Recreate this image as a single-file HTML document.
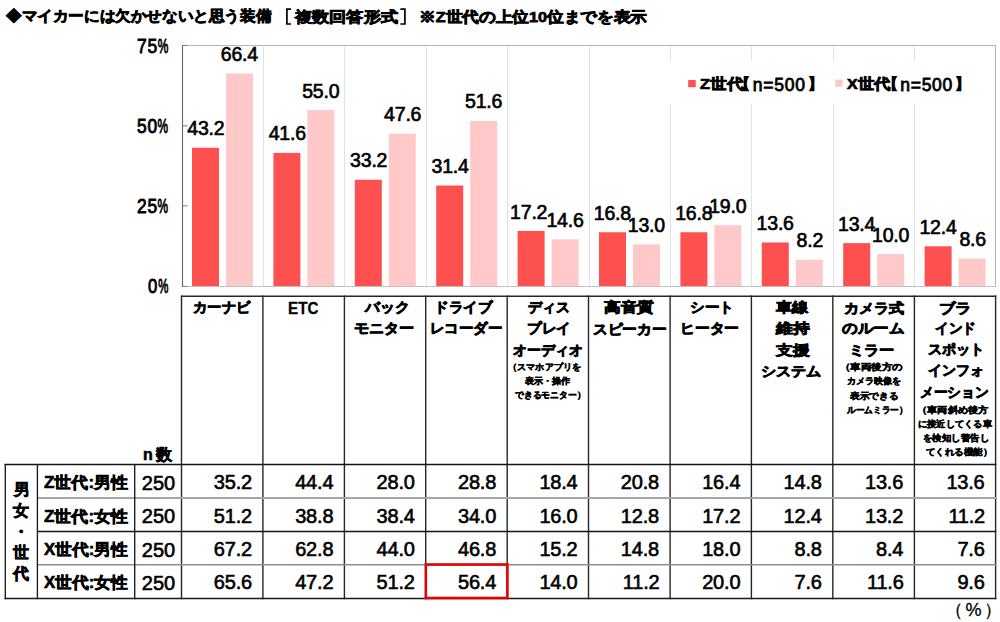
<!DOCTYPE html>
<html lang="ja"><head><meta charset="utf-8"><title>chart</title>
<style>
*{margin:0;padding:0;box-sizing:border-box}
html,body{width:1000px;height:622px;overflow:hidden;background:#fff}
body{position:relative;font-family:"Liberation Sans",sans-serif;color:#000}
.a{position:absolute}
.t{position:absolute;white-space:nowrap;line-height:1.25}
</style></head><body>

<svg class="a" style="left:0;top:0" width="1000" height="622" viewBox="0 0 1000 622">
<line x1="263.50" y1="46.00" x2="263.50" y2="286.00" stroke="#E2E2E2" stroke-width="1.00"/>
<line x1="344.50" y1="46.00" x2="344.50" y2="286.00" stroke="#E2E2E2" stroke-width="1.00"/>
<line x1="426.50" y1="46.00" x2="426.50" y2="286.00" stroke="#E2E2E2" stroke-width="1.00"/>
<line x1="507.50" y1="46.00" x2="507.50" y2="286.00" stroke="#E2E2E2" stroke-width="1.00"/>
<line x1="589.50" y1="46.00" x2="589.50" y2="286.00" stroke="#E2E2E2" stroke-width="1.00"/>
<line x1="670.50" y1="46.00" x2="670.50" y2="286.00" stroke="#E2E2E2" stroke-width="1.00"/>
<line x1="751.50" y1="46.00" x2="751.50" y2="286.00" stroke="#E2E2E2" stroke-width="1.00"/>
<line x1="833.50" y1="46.00" x2="833.50" y2="286.00" stroke="#E2E2E2" stroke-width="1.00"/>
<line x1="914.50" y1="46.00" x2="914.50" y2="286.00" stroke="#E2E2E2" stroke-width="1.00"/>
<rect x="192.00" y="147.76" width="27.00" height="138.24" fill="#FF5050"/>
<rect x="226.00" y="73.52" width="27.00" height="212.48" fill="#FFC9C9"/>
<rect x="273.40" y="152.88" width="27.00" height="133.12" fill="#FF5050"/>
<rect x="307.40" y="110.00" width="27.00" height="176.00" fill="#FFC9C9"/>
<rect x="354.80" y="179.76" width="27.00" height="106.24" fill="#FF5050"/>
<rect x="388.80" y="133.68" width="27.00" height="152.32" fill="#FFC9C9"/>
<rect x="436.20" y="185.52" width="27.00" height="100.48" fill="#FF5050"/>
<rect x="470.20" y="120.88" width="27.00" height="165.12" fill="#FFC9C9"/>
<rect x="517.60" y="230.96" width="27.00" height="55.04" fill="#FF5050"/>
<rect x="551.60" y="239.28" width="27.00" height="46.72" fill="#FFC9C9"/>
<rect x="599.00" y="232.24" width="27.00" height="53.76" fill="#FF5050"/>
<rect x="633.00" y="244.40" width="27.00" height="41.60" fill="#FFC9C9"/>
<rect x="680.40" y="232.24" width="27.00" height="53.76" fill="#FF5050"/>
<rect x="714.40" y="225.20" width="27.00" height="60.80" fill="#FFC9C9"/>
<rect x="761.80" y="242.48" width="27.00" height="43.52" fill="#FF5050"/>
<rect x="795.80" y="259.76" width="27.00" height="26.24" fill="#FFC9C9"/>
<rect x="843.20" y="243.12" width="27.00" height="42.88" fill="#FF5050"/>
<rect x="877.20" y="254.00" width="27.00" height="32.00" fill="#FFC9C9"/>
<rect x="924.60" y="246.32" width="27.00" height="39.68" fill="#FF5050"/>
<rect x="958.60" y="258.48" width="27.00" height="27.52" fill="#FFC9C9"/>
<line x1="182.00" y1="45.50" x2="996.00" y2="45.50" stroke="#B4B4B4" stroke-width="1.00"/>
<line x1="995.50" y1="45.00" x2="995.50" y2="287.00" stroke="#B4B4B4" stroke-width="1.00"/>
<line x1="182.00" y1="286.50" x2="996.00" y2="286.50" stroke="#BDBDBD" stroke-width="1.00"/>
<line x1="182.50" y1="45.50" x2="187.50" y2="45.50" stroke="#7A7A7A" stroke-width="1.00"/>
<line x1="182.50" y1="125.90" x2="187.50" y2="125.90" stroke="#7A7A7A" stroke-width="1.00"/>
<line x1="182.50" y1="205.90" x2="187.50" y2="205.90" stroke="#7A7A7A" stroke-width="1.00"/>
<line x1="182.50" y1="286.40" x2="187.50" y2="286.40" stroke="#7A7A7A" stroke-width="1.00"/>
<line x1="182.50" y1="45.00" x2="182.50" y2="287.00" stroke="#666666" stroke-width="1.10"/>
<rect x="664.00" y="61.00" width="331.00" height="43.00" fill="#fff"/>
<rect x="688.20" y="80.00" width="7.50" height="7.20" fill="#FF5050"/>
<rect x="835.30" y="79.60" width="7.30" height="7.10" fill="#FFC9C9"/>
<line x1="181.50" y1="295.50" x2="181.50" y2="599.20" stroke="#262626" stroke-width="1.40"/>
<line x1="262.90" y1="295.50" x2="262.90" y2="599.20" stroke="#262626" stroke-width="1.40"/>
<line x1="344.40" y1="295.50" x2="344.40" y2="599.20" stroke="#262626" stroke-width="1.40"/>
<line x1="425.70" y1="295.50" x2="425.70" y2="599.20" stroke="#262626" stroke-width="1.40"/>
<line x1="507.20" y1="295.50" x2="507.20" y2="599.20" stroke="#262626" stroke-width="1.40"/>
<line x1="588.50" y1="295.50" x2="588.50" y2="599.20" stroke="#262626" stroke-width="1.40"/>
<line x1="670.10" y1="295.50" x2="670.10" y2="599.20" stroke="#262626" stroke-width="1.40"/>
<line x1="751.40" y1="295.50" x2="751.40" y2="599.20" stroke="#262626" stroke-width="1.40"/>
<line x1="832.80" y1="295.50" x2="832.80" y2="599.20" stroke="#262626" stroke-width="1.40"/>
<line x1="914.40" y1="295.50" x2="914.40" y2="599.20" stroke="#262626" stroke-width="1.40"/>
<line x1="995.60" y1="295.50" x2="995.60" y2="599.20" stroke="#262626" stroke-width="1.40"/>
<line x1="181.00" y1="296.20" x2="996.30" y2="296.20" stroke="#262626" stroke-width="1.50"/>
<line x1="4.50" y1="464.50" x2="996.30" y2="464.50" stroke="#141414" stroke-width="1.30"/>
<line x1="37.40" y1="498.00" x2="996.30" y2="498.00" stroke="#A6A6A6" stroke-width="1.90"/>
<line x1="37.40" y1="531.50" x2="996.30" y2="531.50" stroke="#141414" stroke-width="1.30"/>
<line x1="37.40" y1="564.80" x2="996.30" y2="564.80" stroke="#8E8E8E" stroke-width="1.60"/>
<line x1="4.50" y1="598.50" x2="996.30" y2="598.50" stroke="#1A1A1A" stroke-width="1.30"/>
<line x1="5.30" y1="463.90" x2="5.30" y2="599.20" stroke="#1a1a1a" stroke-width="1.35"/>
<line x1="37.40" y1="463.90" x2="37.40" y2="599.20" stroke="#1a1a1a" stroke-width="1.35"/>
<line x1="134.70" y1="463.90" x2="134.70" y2="599.20" stroke="#1a1a1a" stroke-width="1.35"/>
<path d="M291 9.1H286.9V24H291" fill="none" stroke="#000" stroke-width="1.7"/>
<path d="M400.4 9.1H404.9V24H400.4" fill="none" stroke="#000" stroke-width="1.7"/>
<rect x="425.8" y="564.5" width="81.6" height="33.5" fill="none" stroke="#E60000" stroke-width="2.6"/>
</svg>
<div class="t" style="left:6.40px;top:7.30px;font-size:14.5px;font-weight:bold;-webkit-text-stroke:0.75px #000;letter-spacing:0.00px;transform:scaleX(1.0396);transform-origin:0 0;">◆マイカーには欠かせないと思う装備</div>
<div class="t" style="left:295.14px;top:7.80px;font-size:14.5px;font-weight:bold;-webkit-text-stroke:0.75px #000;letter-spacing:0.00px;transform:scaleX(1.1429);transform-origin:0 0;">複数回答形式</div>
<div class="t" style="left:419.29px;top:7.80px;font-size:14.5px;font-weight:bold;-webkit-text-stroke:0.75px #000;letter-spacing:0.00px;transform:scaleX(1.1132);transform-origin:0 0;">※Z世代の上位10位までを表示</div>
<div class="t" style="left:136.80px;top:34.20px;font-size:19.5px;-webkit-text-stroke:0.85px #000;letter-spacing:0.80px;transform:scaleX(0.8971);transform-origin:0 0;">75<span style="display:inline-block;transform:scaleX(0.68);transform-origin:0 0;width:10.5px">%</span></div>
<div class="t" style="left:137.00px;top:114.20px;font-size:19.5px;-webkit-text-stroke:0.85px #000;letter-spacing:0.80px;transform:scaleX(0.8914);transform-origin:0 0;">50<span style="display:inline-block;transform:scaleX(0.68);transform-origin:0 0;width:10.5px">%</span></div>
<div class="t" style="left:137.00px;top:194.20px;font-size:19.5px;-webkit-text-stroke:0.85px #000;letter-spacing:0.80px;transform:scaleX(0.8914);transform-origin:0 0;">25<span style="display:inline-block;transform:scaleX(0.68);transform-origin:0 0;width:10.5px">%</span></div>
<div class="t" style="left:147.60px;top:274.20px;font-size:19.5px;-webkit-text-stroke:0.85px #000;letter-spacing:0.80px;transform:scaleX(0.8583);transform-origin:0 0;">0<span style="display:inline-block;transform:scaleX(0.68);transform-origin:0 0;width:10.5px">%</span></div>
<div class="t" style="left:187.30px;top:116.36px;font-size:19.5px;-webkit-text-stroke:0.65px #000;letter-spacing:-0.20px;">43.2</div>
<div class="t" style="left:220.80px;top:42.12px;font-size:19.5px;-webkit-text-stroke:0.65px #000;letter-spacing:-0.20px;">66.4</div>
<div class="t" style="left:268.70px;top:121.48px;font-size:19.5px;-webkit-text-stroke:0.65px #000;letter-spacing:-0.20px;">41.6</div>
<div class="t" style="left:302.20px;top:78.60px;font-size:19.5px;-webkit-text-stroke:0.65px #000;letter-spacing:-0.20px;">55.0</div>
<div class="t" style="left:350.10px;top:148.36px;font-size:19.5px;-webkit-text-stroke:0.65px #000;letter-spacing:-0.20px;">33.2</div>
<div class="t" style="left:384.10px;top:102.28px;font-size:19.5px;-webkit-text-stroke:0.65px #000;letter-spacing:-0.20px;">47.6</div>
<div class="t" style="left:431.50px;top:154.12px;font-size:19.5px;-webkit-text-stroke:0.65px #000;letter-spacing:-0.20px;">31.4</div>
<div class="t" style="left:465.00px;top:89.48px;font-size:19.5px;-webkit-text-stroke:0.65px #000;letter-spacing:-0.20px;">51.6</div>
<div class="t" style="left:510.10px;top:199.56px;font-size:19.5px;-webkit-text-stroke:0.65px #000;letter-spacing:-0.20px;">17.2</div>
<div class="t" style="left:546.40px;top:207.88px;font-size:19.5px;-webkit-text-stroke:0.65px #000;letter-spacing:-0.20px;">14.6</div>
<div class="t" style="left:593.80px;top:200.84px;font-size:19.5px;-webkit-text-stroke:0.65px #000;letter-spacing:-0.20px;">16.8</div>
<div class="t" style="left:627.80px;top:213.00px;font-size:19.5px;-webkit-text-stroke:0.65px #000;letter-spacing:-0.20px;">13.0</div>
<div class="t" style="left:675.20px;top:200.84px;font-size:19.5px;-webkit-text-stroke:0.65px #000;letter-spacing:-0.20px;">16.8</div>
<div class="t" style="left:709.20px;top:193.80px;font-size:19.5px;-webkit-text-stroke:0.65px #000;letter-spacing:-0.20px;">19.0</div>
<div class="t" style="left:756.60px;top:211.08px;font-size:19.5px;-webkit-text-stroke:0.65px #000;letter-spacing:-0.20px;">13.6</div>
<div class="t" style="left:796.60px;top:228.36px;font-size:19.5px;-webkit-text-stroke:0.65px #000;letter-spacing:-0.20px;">8.2</div>
<div class="t" style="left:838.00px;top:211.72px;font-size:19.5px;-webkit-text-stroke:0.65px #000;letter-spacing:-0.20px;">13.4</div>
<div class="t" style="left:872.00px;top:222.60px;font-size:19.5px;-webkit-text-stroke:0.65px #000;letter-spacing:-0.20px;">10.0</div>
<div class="t" style="left:919.40px;top:214.92px;font-size:19.5px;-webkit-text-stroke:0.65px #000;letter-spacing:-0.20px;">12.4</div>
<div class="t" style="left:959.40px;top:227.08px;font-size:19.5px;-webkit-text-stroke:0.65px #000;letter-spacing:-0.20px;">8.6</div>
<div class="t" style="left:699.80px;top:75.00px;font-size:14.5px;font-weight:bold;-webkit-text-stroke:0.7px #000;letter-spacing:0.00px;transform:scaleX(1.1231);transform-origin:0 0;">Z世代</div>
<div class="t" style="left:735.20px;top:75.00px;font-size:14.5px;font-weight:bold;-webkit-text-stroke:0.7px #000;letter-spacing:0.00px;">【</div>
<div class="t" style="left:752.80px;top:75.20px;font-size:17.5px;-webkit-text-stroke:0.8px #000;letter-spacing:0.75px;">n=500</div>
<div class="t" style="left:808.00px;top:75.00px;font-size:14.5px;font-weight:bold;-webkit-text-stroke:0.7px #000;letter-spacing:0.00px;">】</div>
<div class="t" style="left:847.20px;top:75.00px;font-size:14.5px;font-weight:bold;-webkit-text-stroke:0.7px #000;letter-spacing:0.00px;transform:scaleX(1.0950);transform-origin:0 0;">X世代</div>
<div class="t" style="left:882.60px;top:75.00px;font-size:14.5px;font-weight:bold;-webkit-text-stroke:0.7px #000;letter-spacing:0.00px;">【</div>
<div class="t" style="left:900.20px;top:75.20px;font-size:17.5px;-webkit-text-stroke:0.8px #000;letter-spacing:0.75px;">n=500</div>
<div class="t" style="left:955.40px;top:75.00px;font-size:14.5px;font-weight:bold;-webkit-text-stroke:0.7px #000;letter-spacing:0.00px;">】</div>
<div class="t" style="left:192.70px;top:299.20px;font-size:14px;font-weight:bold;-webkit-text-stroke:0.75px #000;letter-spacing:0.00px;transform:scaleX(1.0211);transform-origin:0 0;">カーナビ</div>
<div class="t" style="left:287.71px;top:297.70px;font-size:17px;font-weight:bold;-webkit-text-stroke:0.3px #000;letter-spacing:0.00px;transform:scaleX(0.8939);transform-origin:0 0;">ETC</div>
<div class="t" style="left:364.55px;top:299.20px;font-size:14px;font-weight:bold;-webkit-text-stroke:0.75px #000;letter-spacing:0.00px;transform:scaleX(1.0537);transform-origin:0 0;">バック</div>
<div class="t" style="left:354.40px;top:319.90px;font-size:14px;font-weight:bold;-webkit-text-stroke:0.75px #000;letter-spacing:0.00px;transform:scaleX(1.0768);transform-origin:0 0;">モニター</div>
<div class="t" style="left:433.85px;top:299.20px;font-size:14px;font-weight:bold;-webkit-text-stroke:0.75px #000;letter-spacing:0.00px;transform:scaleX(1.0377);transform-origin:0 0;">ドライブ</div>
<div class="t" style="left:429.87px;top:320.40px;font-size:14px;font-weight:bold;-webkit-text-stroke:0.75px #000;letter-spacing:0.00px;transform:scaleX(1.0304);transform-origin:0 0;">レコーダー</div>
<div class="t" style="left:528.30px;top:299.20px;font-size:14px;font-weight:bold;-webkit-text-stroke:0.75px #000;letter-spacing:0.00px;transform:scaleX(0.9927);transform-origin:0 0;">ディス</div>
<div class="t" style="left:527.40px;top:320.40px;font-size:14px;font-weight:bold;-webkit-text-stroke:0.75px #000;letter-spacing:0.00px;transform:scaleX(1.0400);transform-origin:0 0;">プレイ</div>
<div class="t" style="left:513.30px;top:341.60px;font-size:14px;font-weight:bold;-webkit-text-stroke:0.75px #000;letter-spacing:0.00px;transform:scaleX(0.9942);transform-origin:0 0;">オーディオ</div>
<div class="t" style="left:508.23px;top:362.10px;font-size:8.6px;font-weight:bold;-webkit-text-stroke:0.45px #000;letter-spacing:0.00px;transform:scaleX(1.0149);transform-origin:0 0;">（スマホアプリを</div>
<div class="t" style="left:524.80px;top:376.40px;font-size:8.6px;font-weight:bold;-webkit-text-stroke:0.45px #000;letter-spacing:0.00px;transform:scaleX(1.0000);transform-origin:0 0;">表示・操作</div>
<div class="t" style="left:515.00px;top:390.20px;font-size:8.6px;font-weight:bold;-webkit-text-stroke:0.45px #000;letter-spacing:0.00px;transform:scaleX(0.9776);transform-origin:0 0;">できるモニター）</div>
<div class="t" style="left:604.40px;top:299.20px;font-size:14px;font-weight:bold;-webkit-text-stroke:0.75px #000;letter-spacing:0.00px;transform:scaleX(1.1952);transform-origin:0 0;">高音質</div>
<div class="t" style="left:592.80px;top:320.90px;font-size:14px;font-weight:bold;-webkit-text-stroke:0.75px #000;letter-spacing:0.00px;transform:scaleX(1.0486);transform-origin:0 0;">スピーカー</div>
<div class="t" style="left:689.96px;top:298.70px;font-size:14px;font-weight:bold;-webkit-text-stroke:0.75px #000;letter-spacing:0.00px;transform:scaleX(1.0410);transform-origin:0 0;">シート</div>
<div class="t" style="left:680.29px;top:319.90px;font-size:14px;font-weight:bold;-webkit-text-stroke:0.75px #000;letter-spacing:0.00px;transform:scaleX(1.0537);transform-origin:0 0;">ヒーター</div>
<div class="t" style="left:776.16px;top:299.20px;font-size:14px;font-weight:bold;-webkit-text-stroke:0.75px #000;letter-spacing:0.00px;transform:scaleX(1.1600);transform-origin:0 0;">車線</div>
<div class="t" style="left:776.20px;top:320.40px;font-size:14px;font-weight:bold;-webkit-text-stroke:0.75px #000;letter-spacing:0.00px;transform:scaleX(1.2000);transform-origin:0 0;">維持</div>
<div class="t" style="left:776.20px;top:341.60px;font-size:14px;font-weight:bold;-webkit-text-stroke:0.75px #000;letter-spacing:0.00px;transform:scaleX(1.2000);transform-origin:0 0;">支援</div>
<div class="t" style="left:761.42px;top:362.80px;font-size:14px;font-weight:bold;-webkit-text-stroke:0.75px #000;letter-spacing:0.00px;transform:scaleX(1.0782);transform-origin:0 0;">システム</div>
<div class="t" style="left:843.60px;top:299.70px;font-size:14px;font-weight:bold;-webkit-text-stroke:0.75px #000;letter-spacing:0.00px;transform:scaleX(1.0732);transform-origin:0 0;">カメラ式</div>
<div class="t" style="left:842.20px;top:320.40px;font-size:14px;font-weight:bold;-webkit-text-stroke:0.75px #000;letter-spacing:0.00px;transform:scaleX(1.1107);transform-origin:0 0;">のルーム</div>
<div class="t" style="left:849.24px;top:341.60px;font-size:14px;font-weight:bold;-webkit-text-stroke:0.75px #000;letter-spacing:0.00px;transform:scaleX(1.0872);transform-origin:0 0;">ミラー</div>
<div class="t" style="left:839.69px;top:362.10px;font-size:8.6px;font-weight:bold;-webkit-text-stroke:0.45px #000;letter-spacing:0.00px;transform:scaleX(1.1612);transform-origin:0 0;">（車両後方の</div>
<div class="t" style="left:847.00px;top:376.40px;font-size:8.6px;font-weight:bold;-webkit-text-stroke:0.45px #000;letter-spacing:0.00px;transform:scaleX(1.0093);transform-origin:0 0;">カメラ映像を</div>
<div class="t" style="left:850.30px;top:390.70px;font-size:8.6px;font-weight:bold;-webkit-text-stroke:0.45px #000;letter-spacing:0.00px;transform:scaleX(1.0750);transform-origin:0 0;">表示できる</div>
<div class="t" style="left:846.50px;top:404.50px;font-size:8.6px;font-weight:bold;-webkit-text-stroke:0.45px #000;letter-spacing:0.00px;transform:scaleX(0.9638);transform-origin:0 0;">ルームミラー）</div>
<div class="t" style="left:938.82px;top:299.70px;font-size:14px;font-weight:bold;-webkit-text-stroke:0.75px #000;letter-spacing:0.00px;transform:scaleX(1.1760);transform-origin:0 0;">ブラ</div>
<div class="t" style="left:935.20px;top:319.90px;font-size:14px;font-weight:bold;-webkit-text-stroke:0.75px #000;letter-spacing:0.00px;transform:scaleX(0.9683);transform-origin:0 0;">インド</div>
<div class="t" style="left:928.40px;top:341.10px;font-size:14px;font-weight:bold;-webkit-text-stroke:0.75px #000;letter-spacing:0.00px;transform:scaleX(1.0111);transform-origin:0 0;">スポット</div>
<div class="t" style="left:928.40px;top:362.30px;font-size:14px;font-weight:bold;-webkit-text-stroke:0.75px #000;letter-spacing:0.00px;transform:scaleX(1.0000);transform-origin:0 0;">インフォ</div>
<div class="t" style="left:919.92px;top:384.00px;font-size:14px;font-weight:bold;-webkit-text-stroke:0.75px #000;letter-spacing:0.00px;transform:scaleX(0.9797);transform-origin:0 0;">メーション</div>
<div class="t" style="left:916.54px;top:404.50px;font-size:8.6px;font-weight:bold;-webkit-text-stroke:0.45px #000;letter-spacing:0.00px;transform:scaleX(1.1310);transform-origin:0 0;">（車両斜め後方</div>
<div class="t" style="left:918.10px;top:418.80px;font-size:8.6px;font-weight:bold;-webkit-text-stroke:0.45px #000;letter-spacing:0.00px;transform:scaleX(1.0250);transform-origin:0 0;">に接近してくる車</div>
<div class="t" style="left:922.90px;top:433.10px;font-size:8.6px;font-weight:bold;-webkit-text-stroke:0.45px #000;letter-spacing:0.00px;transform:scaleX(1.0468);transform-origin:0 0;">を検知し警告し</div>
<div class="t" style="left:925.70px;top:447.40px;font-size:8.6px;font-weight:bold;-webkit-text-stroke:0.45px #000;letter-spacing:0.00px;transform:scaleX(1.0483);transform-origin:0 0;">てくれる機能）</div>
<div class="t" style="left:143.00px;top:444.80px;font-size:16px;font-weight:bold;-webkit-text-stroke:0.6px #000;letter-spacing:3.00px;">n数</div>
<div class="t" style="left:13.80px;top:479.90px;font-size:16px;font-weight:bold;-webkit-text-stroke:0.6px #000;letter-spacing:0.00px;">男</div>
<div class="t" style="left:12.80px;top:501.00px;font-size:16px;font-weight:bold;-webkit-text-stroke:0.6px #000;letter-spacing:0.00px;">女</div>
<div class="t" style="left:12.80px;top:521.80px;font-size:16px;font-weight:bold;-webkit-text-stroke:0.6px #000;letter-spacing:0.00px;">・</div>
<div class="t" style="left:12.80px;top:542.90px;font-size:16px;font-weight:bold;-webkit-text-stroke:0.6px #000;letter-spacing:0.00px;">世</div>
<div class="t" style="left:13.30px;top:563.50px;font-size:16px;font-weight:bold;-webkit-text-stroke:0.6px #000;letter-spacing:0.00px;">代</div>
<div class="t" style="left:43.60px;top:473.30px;font-size:16px;font-weight:bold;-webkit-text-stroke:0.6px #000;letter-spacing:0.00px;transform:scaleX(1.0633);transform-origin:0 0;">Z世代:男性</div>
<div class="t" style="left:141.80px;top:471.00px;font-size:20px;-webkit-text-stroke:0.6px #000;letter-spacing:0.00px;">250</div>
<div class="t" style="left:213.80px;top:470.30px;font-size:20px;-webkit-text-stroke:0.6px #000;letter-spacing:-0.20px;">35.2</div>
<div class="t" style="left:295.20px;top:470.30px;font-size:20px;-webkit-text-stroke:0.6px #000;letter-spacing:-0.20px;">44.4</div>
<div class="t" style="left:376.60px;top:470.30px;font-size:20px;-webkit-text-stroke:0.6px #000;letter-spacing:-0.20px;">28.0</div>
<div class="t" style="left:458.00px;top:470.30px;font-size:20px;-webkit-text-stroke:0.6px #000;letter-spacing:-0.20px;">28.8</div>
<div class="t" style="left:539.40px;top:470.30px;font-size:20px;-webkit-text-stroke:0.6px #000;letter-spacing:-0.20px;">18.4</div>
<div class="t" style="left:620.80px;top:470.30px;font-size:20px;-webkit-text-stroke:0.6px #000;letter-spacing:-0.20px;">20.8</div>
<div class="t" style="left:702.20px;top:470.30px;font-size:20px;-webkit-text-stroke:0.6px #000;letter-spacing:-0.20px;">16.4</div>
<div class="t" style="left:783.60px;top:470.30px;font-size:20px;-webkit-text-stroke:0.6px #000;letter-spacing:-0.20px;">14.8</div>
<div class="t" style="left:865.00px;top:470.30px;font-size:20px;-webkit-text-stroke:0.6px #000;letter-spacing:-0.20px;">13.6</div>
<div class="t" style="left:946.40px;top:470.30px;font-size:20px;-webkit-text-stroke:0.6px #000;letter-spacing:-0.20px;">13.6</div>
<div class="t" style="left:43.60px;top:506.60px;font-size:16px;font-weight:bold;-webkit-text-stroke:0.6px #000;letter-spacing:0.00px;transform:scaleX(1.0633);transform-origin:0 0;">Z世代:女性</div>
<div class="t" style="left:141.80px;top:504.30px;font-size:20px;-webkit-text-stroke:0.6px #000;letter-spacing:0.00px;">250</div>
<div class="t" style="left:213.80px;top:503.60px;font-size:20px;-webkit-text-stroke:0.6px #000;letter-spacing:-0.20px;">51.2</div>
<div class="t" style="left:295.20px;top:503.60px;font-size:20px;-webkit-text-stroke:0.6px #000;letter-spacing:-0.20px;">38.8</div>
<div class="t" style="left:376.60px;top:503.60px;font-size:20px;-webkit-text-stroke:0.6px #000;letter-spacing:-0.20px;">38.4</div>
<div class="t" style="left:458.00px;top:503.60px;font-size:20px;-webkit-text-stroke:0.6px #000;letter-spacing:-0.20px;">34.0</div>
<div class="t" style="left:539.40px;top:503.60px;font-size:20px;-webkit-text-stroke:0.6px #000;letter-spacing:-0.20px;">16.0</div>
<div class="t" style="left:620.80px;top:503.60px;font-size:20px;-webkit-text-stroke:0.6px #000;letter-spacing:-0.20px;">12.8</div>
<div class="t" style="left:702.20px;top:503.60px;font-size:20px;-webkit-text-stroke:0.6px #000;letter-spacing:-0.20px;">17.2</div>
<div class="t" style="left:783.60px;top:503.60px;font-size:20px;-webkit-text-stroke:0.6px #000;letter-spacing:-0.20px;">12.4</div>
<div class="t" style="left:865.00px;top:503.60px;font-size:20px;-webkit-text-stroke:0.6px #000;letter-spacing:-0.20px;">13.2</div>
<div class="t" style="left:948.40px;top:503.60px;font-size:20px;-webkit-text-stroke:0.6px #000;letter-spacing:-0.20px;">11.2</div>
<div class="t" style="left:43.60px;top:540.00px;font-size:16px;font-weight:bold;-webkit-text-stroke:0.6px #000;letter-spacing:0.00px;transform:scaleX(1.0500);transform-origin:0 0;">X世代:男性</div>
<div class="t" style="left:141.80px;top:537.70px;font-size:20px;-webkit-text-stroke:0.6px #000;letter-spacing:0.00px;">250</div>
<div class="t" style="left:213.80px;top:537.00px;font-size:20px;-webkit-text-stroke:0.6px #000;letter-spacing:-0.20px;">67.2</div>
<div class="t" style="left:295.20px;top:537.00px;font-size:20px;-webkit-text-stroke:0.6px #000;letter-spacing:-0.20px;">62.8</div>
<div class="t" style="left:376.60px;top:537.00px;font-size:20px;-webkit-text-stroke:0.6px #000;letter-spacing:-0.20px;">44.0</div>
<div class="t" style="left:458.00px;top:537.00px;font-size:20px;-webkit-text-stroke:0.6px #000;letter-spacing:-0.20px;">46.8</div>
<div class="t" style="left:539.40px;top:537.00px;font-size:20px;-webkit-text-stroke:0.6px #000;letter-spacing:-0.20px;">15.2</div>
<div class="t" style="left:620.80px;top:537.00px;font-size:20px;-webkit-text-stroke:0.6px #000;letter-spacing:-0.20px;">14.8</div>
<div class="t" style="left:702.20px;top:537.00px;font-size:20px;-webkit-text-stroke:0.6px #000;letter-spacing:-0.20px;">18.0</div>
<div class="t" style="left:794.60px;top:537.00px;font-size:20px;-webkit-text-stroke:0.6px #000;letter-spacing:-0.20px;">8.8</div>
<div class="t" style="left:876.00px;top:537.00px;font-size:20px;-webkit-text-stroke:0.6px #000;letter-spacing:-0.20px;">8.4</div>
<div class="t" style="left:957.40px;top:537.00px;font-size:20px;-webkit-text-stroke:0.6px #000;letter-spacing:-0.20px;">7.6</div>
<div class="t" style="left:43.60px;top:573.10px;font-size:16px;font-weight:bold;-webkit-text-stroke:0.6px #000;letter-spacing:0.00px;transform:scaleX(1.0500);transform-origin:0 0;">X世代:女性</div>
<div class="t" style="left:141.80px;top:570.80px;font-size:20px;-webkit-text-stroke:0.6px #000;letter-spacing:0.00px;">250</div>
<div class="t" style="left:213.80px;top:570.10px;font-size:20px;-webkit-text-stroke:0.6px #000;letter-spacing:-0.20px;">65.6</div>
<div class="t" style="left:295.20px;top:570.10px;font-size:20px;-webkit-text-stroke:0.6px #000;letter-spacing:-0.20px;">47.2</div>
<div class="t" style="left:376.60px;top:570.10px;font-size:20px;-webkit-text-stroke:0.6px #000;letter-spacing:-0.20px;">51.2</div>
<div class="t" style="left:458.00px;top:570.10px;font-size:20px;-webkit-text-stroke:0.6px #000;letter-spacing:-0.20px;">56.4</div>
<div class="t" style="left:539.40px;top:570.10px;font-size:20px;-webkit-text-stroke:0.6px #000;letter-spacing:-0.20px;">14.0</div>
<div class="t" style="left:622.80px;top:570.10px;font-size:20px;-webkit-text-stroke:0.6px #000;letter-spacing:-0.20px;">11.2</div>
<div class="t" style="left:702.20px;top:570.10px;font-size:20px;-webkit-text-stroke:0.6px #000;letter-spacing:-0.20px;">20.0</div>
<div class="t" style="left:794.60px;top:570.10px;font-size:20px;-webkit-text-stroke:0.6px #000;letter-spacing:-0.20px;">7.6</div>
<div class="t" style="left:867.00px;top:570.10px;font-size:20px;-webkit-text-stroke:0.6px #000;letter-spacing:-0.20px;">11.6</div>
<div class="t" style="left:957.40px;top:570.10px;font-size:20px;-webkit-text-stroke:0.6px #000;letter-spacing:-0.20px;">9.6</div>
<div class="t" style="left:945.00px;top:598.80px;font-size:18px;-webkit-text-stroke:0.3px #000;letter-spacing:2.60px;">（%）</div>
</body></html>
